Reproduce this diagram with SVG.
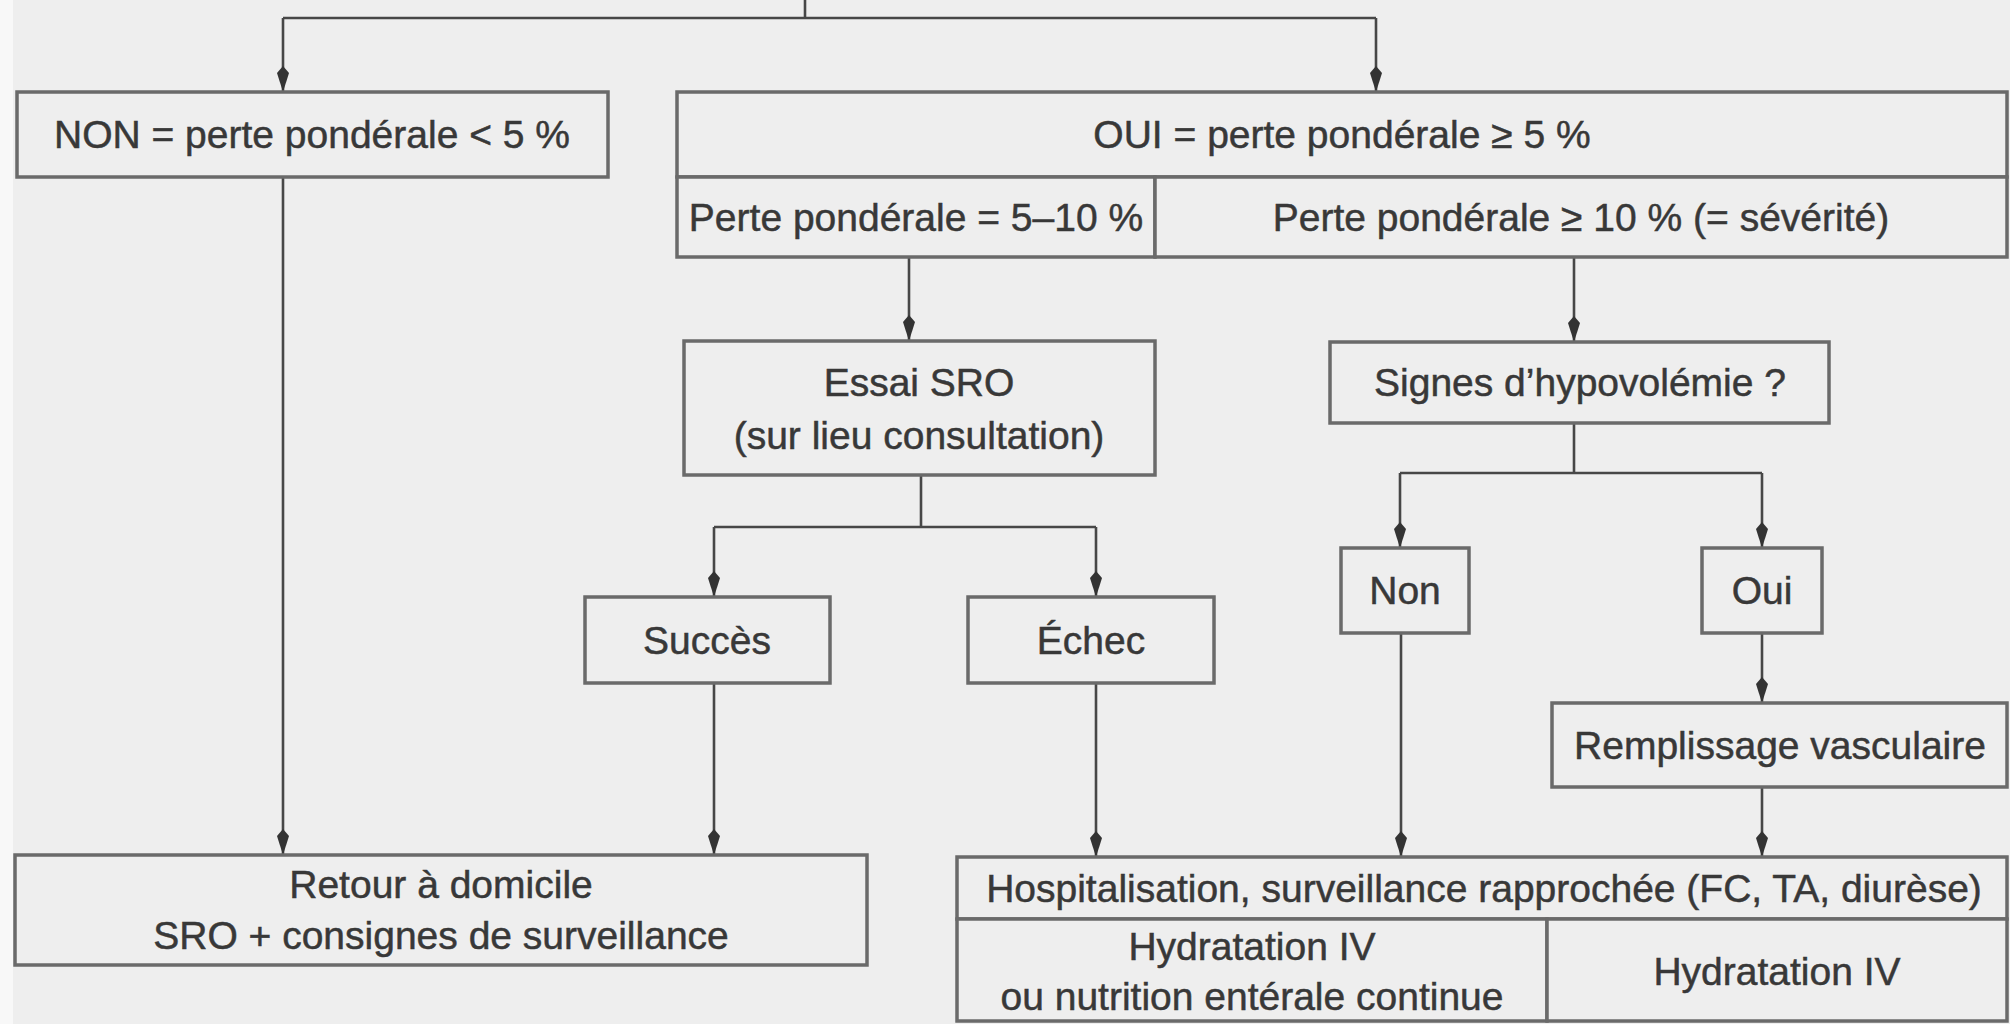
<svg xmlns="http://www.w3.org/2000/svg" width="2010" height="1024" viewBox="0 0 2010 1024">
<style>
.bg{fill:#eeeeee}
.box{fill:#eeeeee;stroke:#6a6a6a;stroke-width:3.5}
.con{stroke:#474747;stroke-width:2.6;fill:none}
.arr{marker-end:url(#ah)}
text{font-family:"Liberation Sans",Arial,sans-serif;font-size:39px;fill:#383838;stroke:#383838;stroke-width:0.5;text-anchor:middle}
</style>
<defs>
<marker id="ah" markerUnits="userSpaceOnUse" markerWidth="26" markerHeight="13" viewBox="0 0 26 13" refX="25" refY="6.5" orient="auto">
<path d="M0,6.5 L7,0.5 L26,6.5 L7,12.5 Z" fill="#333333"/>
</marker>
</defs>
<rect class="bg" x="0" y="0" width="2010" height="1024"/>
<rect x="0" y="0" width="13" height="1024" fill="#f8f8f8"/>

<g id="connectors">
<path class="con" d="M805,0 V18"/>
<path class="con" d="M283,18 H1376"/>
<path class="con arr" d="M283,18 V91"/>
<path class="con arr" d="M1376,18 V91"/>
<path class="con arr" d="M283,177 V854"/>
<path class="con arr" d="M909,257 V340"/>
<path class="con arr" d="M1574,257 V341"/>
<path class="con" d="M921,475 V527"/>
<path class="con" d="M714,527 H1096"/>
<path class="con arr" d="M714,527 V596"/>
<path class="con arr" d="M1096,527 V596"/>
<path class="con arr" d="M714,683 V854"/>
<path class="con arr" d="M1096,683 V856"/>
<path class="con" d="M1574,423 V473"/>
<path class="con" d="M1400,473 H1762"/>
<path class="con arr" d="M1400,473 V547"/>
<path class="con arr" d="M1762,473 V547"/>
<path class="con arr" d="M1401,633 V856"/>
<path class="con arr" d="M1762,633 V702"/>
<path class="con arr" d="M1762,787 V856"/>
</g>

<g id="node-non">
<rect class="box" x="17" y="92" width="591" height="85"/>
<text x="312" y="148">NON = perte pondérale &lt; 5 %</text>
</g>

<g id="node-oui">
<rect class="box" x="677" y="92" width="1330" height="85"/>
<text x="1342" y="148">OUI = perte pondérale ≥ 5 %</text>
</g>

<g id="node-oui-5-10">
<rect class="box" x="677" y="177" width="478" height="80"/>
<text x="916" y="231">Perte pondérale = 5–10 %</text>
</g>

<g id="node-oui-10">
<rect class="box" x="1155" y="177" width="852" height="80"/>
<text x="1581" y="231">Perte pondérale ≥ 10 % (= sévérité)</text>
</g>

<g id="node-essai">
<rect class="box" x="684" y="341" width="471" height="134"/>
<text x="919" y="396">Essai SRO</text>
<text x="919" y="449">(sur lieu consultation)</text>
</g>

<g id="node-signes">
<rect class="box" x="1330" y="342" width="499" height="81"/>
<text x="1580" y="396">Signes d’hypovolémie ?</text>
</g>

<g id="node-succes">
<rect class="box" x="585" y="597" width="245" height="86"/>
<text x="707" y="654">Succès</text>
</g>

<g id="node-echec">
<rect class="box" x="968" y="597" width="246" height="86"/>
<text x="1091" y="654">Échec</text>
</g>

<g id="node-hypo-non">
<rect class="box" x="1341" y="548" width="128" height="85"/>
<text x="1405" y="604">Non</text>
</g>

<g id="node-hypo-oui">
<rect class="box" x="1702" y="548" width="120" height="85"/>
<text x="1762" y="604">Oui</text>
</g>

<g id="node-remplissage">
<rect class="box" x="1552" y="703" width="455" height="84"/>
<text x="1780" y="759">Remplissage vasculaire</text>
</g>

<g id="node-retour">
<rect class="box" x="15" y="855" width="852" height="110"/>
<text x="441" y="898">Retour à domicile</text>
<text x="441" y="949">SRO + consignes de surveillance</text>
</g>

<g id="node-hospitalisation">
<rect class="box" x="957" y="857" width="1050" height="62"/>
<text x="1484" y="902">Hospitalisation, surveillance rapprochée (FC, TA, diurèse)</text>
</g>

<g id="node-hydra-left">
<rect class="box" x="957" y="919" width="590" height="102"/>
<text x="1252" y="960">Hydratation IV</text>
<text x="1252" y="1010">ou nutrition entérale continue</text>
</g>

<g id="node-hydra-right">
<rect class="box" x="1547" y="919" width="460" height="102"/>
<text x="1777" y="985">Hydratation IV</text>
</g>
</svg>
